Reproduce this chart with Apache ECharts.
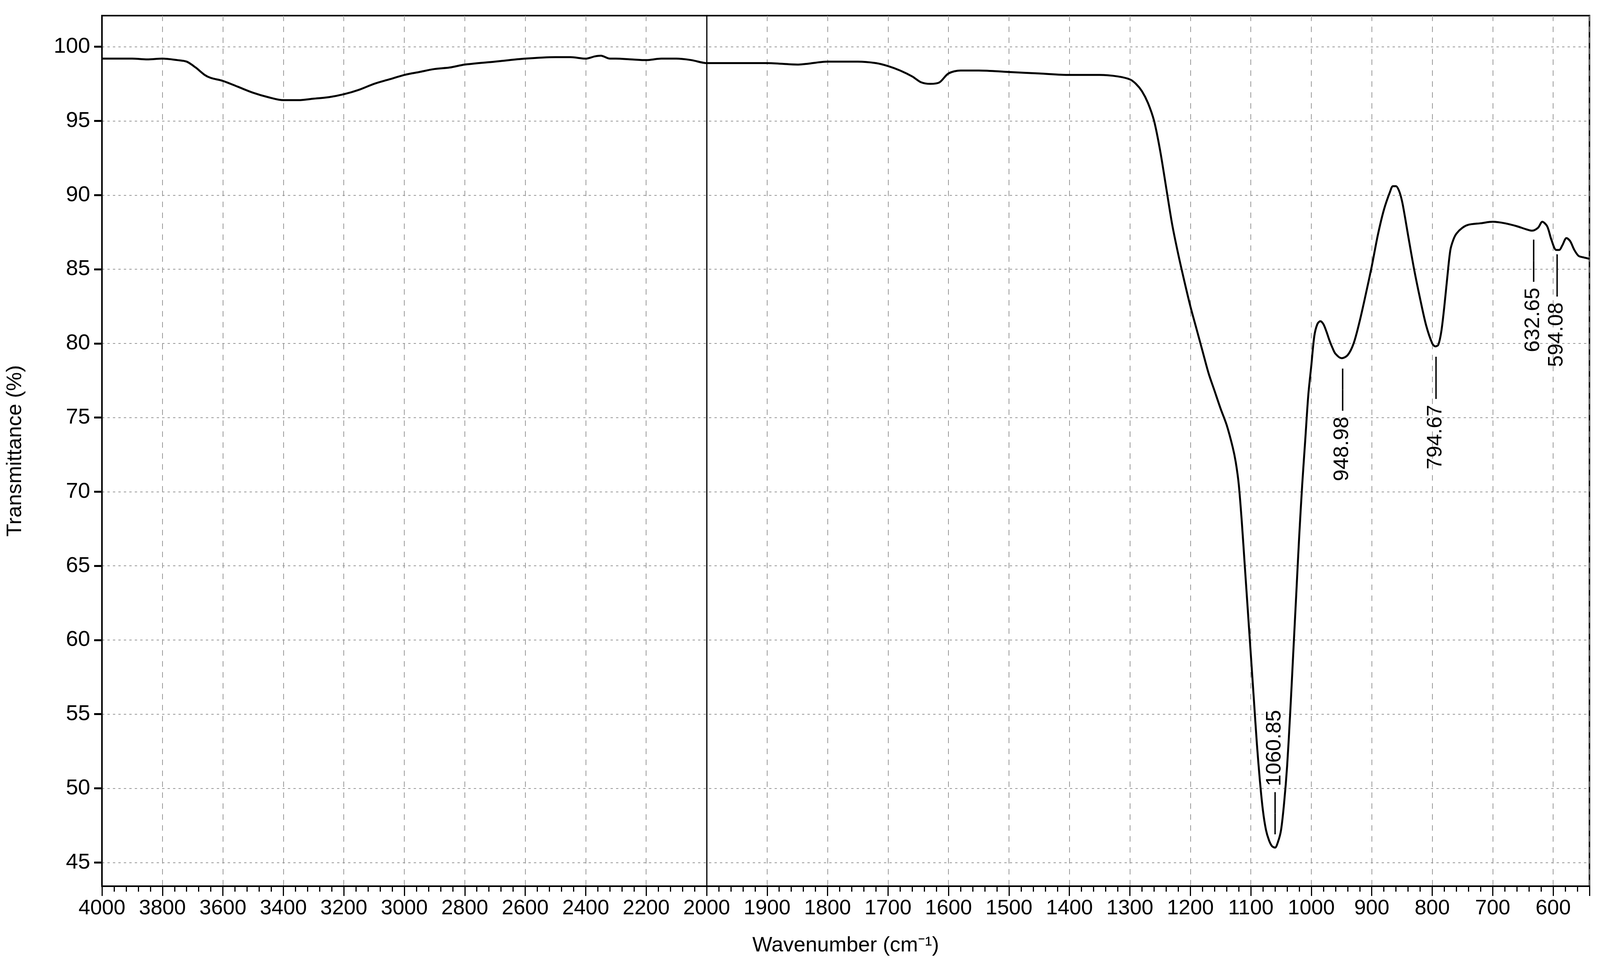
<!DOCTYPE html>
<html>
<head>
<meta charset="utf-8" />
<title>FTIR</title>
<script src="https://cdn.jsdelivr.net/npm/echarts@6/dist/echarts.min.js"></script>
<style>html,body{margin:0;padding:0;overflow:hidden;background:#fff}#main{width:100vw;height:100vh}</style>
</head>
<body>
<div id="main"></div>
<script>
// wavenumber (cm-1) and transmittance (%)
var wavenumbers = [4000,3900,3850,3800,3750,3720,3690,3660,3640,3600,3550,3500,3450,3400,3350,3300,3250,3200,3150,3100,3050,3000,2950,2900,2850,2800,2700,2600,2500,2450,2400,2370,2350,2320,2300,2250,2200,2150,2100,2050,2000,
  1950,1900,1850,1800,1750,1720,1700,1680,1660,1645,1630,1615,1600,1580,1550,1500,1450,1400,1350,1320,1300,1290,1280,1270,1260,1250,1240,1230,1220,1210,1200,1190,1180,1170,1160,1150,1140,1130,1125,1120,1115,1110,1105,1100,1095,1090,1085,1080,1075,1070,1065,1060,1055,1050,1045,1040,1035,1030,1025,1020,1015,1010,1005,1000,995,990,985,980,975,970,965,960,950,940,930,920,910,900,890,880,870,865,860,855,850,845,840,830,820,810,800,795,790,785,780,775,770,765,760,750,740,720,700,680,660,645,635,625,618,610,603,595,590,585,578,572,565,558,550,540];
var transmittance = [99.2,99.2,99.15,99.2,99.1,99.0,98.6,98.1,97.9,97.7,97.3,96.9,96.6,96.4,96.4,96.5,96.6,96.8,97.1,97.5,97.8,98.1,98.3,98.5,98.6,98.8,99.0,99.2,99.3,99.3,99.2,99.35,99.4,99.2,99.2,99.15,99.1,99.2,99.2,99.1,98.9,
  98.9,98.9,98.8,99.0,99.0,98.9,98.7,98.4,98.0,97.6,97.5,97.6,98.2,98.4,98.4,98.3,98.2,98.1,98.1,98.0,97.8,97.5,97.0,96.2,95.0,93.0,90.5,88.0,86.0,84.2,82.5,81.0,79.5,78.0,76.8,75.6,74.5,73.0,72.0,70.5,68.0,65.0,62.0,59.0,56.0,53.0,50.5,48.5,47.2,46.5,46.1,46.0,46.4,47.2,49.0,51.5,55.0,59.0,63.0,67.0,70.5,73.5,76.5,78.5,80.5,81.3,81.5,81.3,80.8,80.2,79.7,79.3,79.0,79.2,80.0,81.5,83.3,85.2,87.3,89.0,90.2,90.6,90.6,90.3,89.6,88.5,87.3,85.0,83.0,81.2,80.0,79.8,79.9,80.8,82.5,84.5,86.3,87.0,87.4,87.8,88.0,88.1,88.2,88.1,87.9,87.7,87.6,87.8,88.2,87.9,87.0,86.3,86.3,86.6,87.1,86.9,86.3,85.9,85.8,85.7];
var peaks = [1060.85, 948.98, 794.67, 632.65, 594.08];
var peakAnchors = [46.9, 78.3, 79.1, 87.0, 86.0];
var peakTextUp = [true, false, false, false, false];
var yTicks = [45, 50, 55, 60, 65, 70, 75, 80, 85, 90, 95, 100];

// broken axis: 4000-2000 at half scale, below 2000 at full scale
function toX(w) { return w >= 2000 ? (4000 - w) / 2 : 1000 + (2000 - w); }
function fromX(x) { return x <= 1000 ? 4000 - 2 * x : 2000 - (x - 1000); }

var points = wavenumbers.map(function (w, i) { return [toX(w), transmittance[i]]; });
var fontFam = "'Liberation Sans',Arial,sans-serif";

var markData = peaks.map(function (p, i) {
  var up = peakTextUp[i];
  return {
    coord: [toX(p), peakAnchors[i]],
    symbolSize: 0,
    label: {
      show: true, rotate: 90, color: '#000', fontSize: 54, fontFamily: fontFam,
      position: 'inside', align: up ? 'left' : 'right', verticalAlign: 'middle',
      formatter: up ? '—— ' + p.toFixed(2) : p.toFixed(2) + ' ——'
    }
  };
});

var chart = echarts.init(document.getElementById('main'));
chart.setOption({
  animation: false,
  grid: { left: 261, right: 27, top: 40, bottom: 194, show: true, borderColor: '#000', borderWidth: 4 },
  xAxis: {
    type: 'value', min: 0, max: 2460, interval: 100,
    name: 'Wavenumber (cm⁻¹)', nameLocation: 'middle', nameGap: 125,
    nameTextStyle: { fontSize: 54, color: '#000', fontFamily: fontFam },
    axisLine: { lineStyle: { color: '#000', width: 4 } },
    axisTick: { length: 25, lineStyle: { color: '#000', width: 3 } },
    minorTick: { show: true, splitNumber: 5, length: 14, lineStyle: { color: '#000', width: 3 } },
    axisLabel: { fontSize: 54, color: '#000', fontFamily: fontFam, margin: 30, showMaxLabel: false,
      formatter: function (v) { return String(fromX(v)); } },
    splitLine: { show: true, lineStyle: { color: '#999', type: [14, 14], width: 2 } }
  },
  yAxis: {
    type: 'value', min: 43.4, max: 102.1,
    name: 'Transmittance (%)', nameLocation: 'middle', nameGap: 195,
    nameTextStyle: { fontSize: 54, color: '#000', fontFamily: fontFam },
    axisLine: { lineStyle: { color: '#000', width: 4 } },
    axisTick: { show: true, length: 20, customValues: yTicks, lineStyle: { color: '#000', width: 5 } },
    axisLabel: { fontSize: 56, color: '#000', fontFamily: fontFam, margin: 30, customValues: yTicks },
    splitLine: { show: true, lineStyle: { color: '#999', type: [6, 8], width: 2 } }
  },
  series: [{
    type: 'line', data: points, showSymbol: false, smooth: 0.3,
    lineStyle: { color: '#000', width: 5 },
    markLine: { silent: true, symbol: 'none', label: { show: false },
      lineStyle: { color: '#000', type: 'solid', width: 3 }, data: [{ xAxis: toX(2000) }] },
    markPoint: { symbol: 'circle', data: markData }
  }]
});
</script>
</body>
</html>
